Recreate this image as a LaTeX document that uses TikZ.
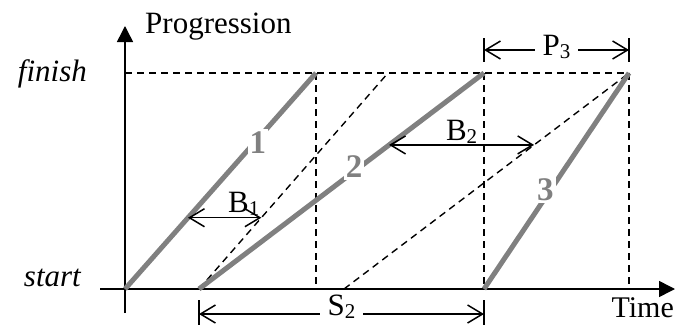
\documentclass[tikz,border=0pt]{standalone}
\usepackage{fontspec}
\setmainfont{Liberation Serif}
\usetikzlibrary{arrows.meta,calc}
\definecolor{taskgray}{RGB}{128,128,128}
\newcommand{\subidx}[1]{\raisebox{-3pt}{\fontsize{21}{21}\selectfont #1}}

\begin{document}
\begin{tikzpicture}[x=1pt,y=-1pt,
  font=\fontsize{31}{34}\selectfont,
  axis/.style={line width=1.5pt,-{Triangle[length=16pt,width=16pt]}},
  guide/.style={line width=1.4pt,dash pattern=on 7pt off 5pt},
  task/.style={line width=5pt,draw=taskgray},
  tasklbl/.style={fill=white,text=taskgray,font=\fontsize{33}{36}\selectfont\bfseries,inner sep=2pt},
  span/.style={line width=1.5pt,{Straight Barb[length=15pt,width=18pt]}-{Straight Barb[length=15pt,width=18pt]}},
  gaplbl/.style={fill=white,inner xsep=8pt,inner ysep=0pt},
  tick/.style={line width=1.5pt}
]
\useasboundingbox (0,0) rectangle (677,324);

% key points
\coordinate (O) at (125,289);
\coordinate (F) at (125,73);
\coordinate (s2) at (199,289);
\coordinate (s3) at (484,289);
\coordinate (e1) at (316,73);
\coordinate (e2) at (484,73);
\coordinate (e3) at (629,73);
\coordinate (d1e) at (388,73);
\coordinate (d2s) at (344,289);

% axes
\coordinate (xa) at (100,289);
\coordinate (xb) at (675,289);
\coordinate (ya) at (125,313);
\coordinate (yb) at (125,26);
\draw[axis] (xa) -- (xb);
\draw[axis] (ya) -- (yb);
\node[anchor=base west,inner sep=0pt] (prog) at (145,33) {Progression};
\node[anchor=base east,inner sep=0pt,font=\fontsize{30}{32}\selectfont] (time) at (674,317) {Time};
\node[anchor=base east,inner sep=0pt,font=\fontsize{31}{34}\selectfont\itshape] (fin) at (87,81) {finish};
\node[anchor=base east,inner sep=0pt,font=\fontsize{31}{34}\selectfont\itshape] (sta) at (81,286) {start};

% guides
\draw[guide] (F) -- (e3);
\draw[guide] (e1) -- (e1 |- O);
\draw[guide] (e2) -- (s3);
\draw[guide] (e3) -- (e3 |- O);
\draw[guide] (s2) -- (d1e);
\draw[guide] (d2s) -- (e3);

% tasks
\draw[task] (O) -- node[tasklbl,pos=.68,xshift=3pt]{1} (e1);
\draw[task] (s2) -- node[tasklbl,pos=.565,xshift=-6pt]{2} (e2);
\draw[task] (s3) -- node[tasklbl,pos=.458,xshift=-5pt]{3} (e3);

% buffers
\draw[span] ($(O)!.33!(e1)$) -- node[above,pos=.76,inner sep=1pt]{B\subidx{1}} ($(s2)!.33!(d1e)$);
\draw[span] ($(s2)!.667!(e2)$) -- node[above,inner sep=1pt]{B\subidx{2}} ($(d2s)!.667!(e3)$);

% P3
\draw[tick] ($(e2)+(0,-35)$) -- ($(e2)+(0,-11)$);
\draw[tick] ($(e3)+(0,-35)$) -- ($(e3)+(0,-11)$);
\draw[span] ($(e2)+(0,-23)$) -- node[gaplbl,yshift=3pt]{P\subidx{3}} ($(e3)+(0,-23)$);

% S2
\draw[tick] ($(s2)+(0,11)$) -- ($(s2)+(0,37)$);
\draw[tick] ($(s3)+(0,11)$) -- ($(s3)+(0,37)$);
\draw[span] ($(s2)+(0,25)$) -- node[gaplbl,yshift=7pt]{S\subidx{2}} ($(s3)+(0,25)$);
\end{tikzpicture}
\end{document}
